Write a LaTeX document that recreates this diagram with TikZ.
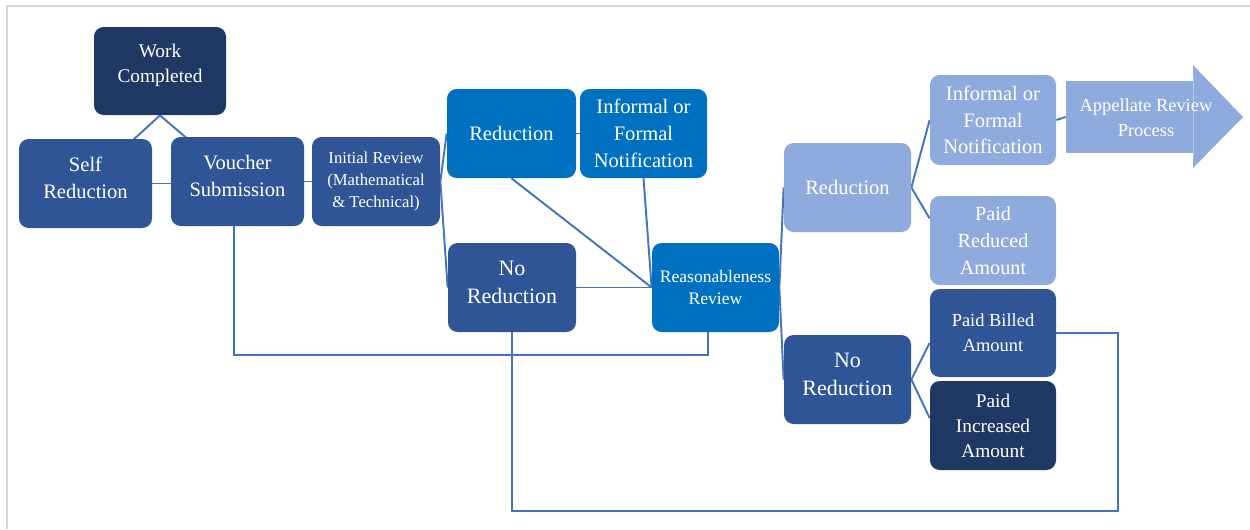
\documentclass[tikz,border=0pt]{standalone}
\usepackage{fontspec}
\setmainfont{Liberation Serif}
\usetikzlibrary{calc,backgrounds}

\definecolor{navy}{HTML}{203864}
\definecolor{midblue}{HTML}{2F5597}
\definecolor{brightblue}{HTML}{0070C0}
\definecolor{lightblue}{HTML}{8FAADC}
\definecolor{linkblue}{HTML}{4472C4}
\definecolor{framegrey}{HTML}{D6D6D6}

\newcommand\boxsize[2]{\fontsize{#1}{#2}\selectfont}

\tikzset{
  box/.style={rectangle, rounded corners=5.5pt, text=white, align=center, inner sep=0pt},
  wh/.style 2 args={minimum width=#1*0.02cm, minimum height=#2*0.02cm},
  conn/.style={draw=linkblue, line width=1.1pt},
  frameline/.style={draw=framegrey, line width=0.8pt},
}

\begin{document}
\begin{tikzpicture}[x=0.02cm, y=-0.02cm]
\useasboundingbox (0,0) rectangle (1250,529);
\draw[frameline] (7,529) -- (7,6) -- (1250,6);

% first stage
\node[box, fill=navy, wh={132}{88}, font=\boxsize{11}{14.2}, text depth=9pt] (wc) at (160,71) {Work\\Completed};
\node[box, fill=midblue, wh={133}{89}, font=\boxsize{11.7}{15.3}, text depth=6.8pt] (sr) at (85.5,183.5) {Self\\Reduction};
\node[box, fill=midblue, wh={133}{89}, font=\boxsize{11.7}{15.3}, text depth=6.8pt] (vs) at (237.5,181.5) {Voucher\\Submission};
\node[box, fill=midblue, wh={128}{89}, font=\boxsize{9.5}{12.5}] (ir) at (376,181.5) {Initial Review\\(Mathematical\\\& Technical)};

% initial review outcomes
\node[box, fill=brightblue, wh={129}{89}, font=\boxsize{11.7}{15.3}] (rm) at (511.5,133.5) {Reduction};
\node[box, fill=brightblue, wh={127}{89}, font=\boxsize{11.7}{15.3}] (im) at (643.5,133.5) {Informal or\\Formal\\Notification};
\node[box, fill=midblue, wh={128}{89}, font=\boxsize{12.5}{16}, text depth=5.7pt] (nm) at (512,287.5) {No\\Reduction};
\node[box, fill=brightblue, wh={127}{89}, font=\boxsize{10}{13}] (rr) at (715.5,287.5) {Reasonableness\\Review};

% reasonableness review outcomes
\node[box, fill=lightblue, wh={127}{89}, font=\boxsize{11.7}{15.3}] (rdr) at (847.5,187.5) {Reduction};
\node[box, fill=midblue, wh={127}{89}, font=\boxsize{12.5}{16}, text depth=5.7pt] (nr) at (847.5,379.5) {No\\Reduction};
\node[box, fill=lightblue, wh={126}{90}, font=\boxsize{11.7}{15}] (ir2) at (993,120) {Informal or\\Formal\\Notification};
\node[box, fill=lightblue, wh={126}{89}, font=\boxsize{11.5}{15.3}] (pr) at (993,240.5) {Paid\\Reduced\\Amount};
\node[box, fill=midblue, wh={126}{88}, font=\boxsize{10.5}{14.2}] (pb) at (993,333) {Paid Billed\\Amount};
\node[box, fill=navy, wh={126}{89}, font=\boxsize{11}{14.2}] (pi) at (993,425.5) {Paid\\Increased\\Amount};

% appellate review arrow
\node[rectangle, fill=lightblue, inner sep=0pt, wh={127}{72}] (ap) at (1129.5,117) {};
\fill[lightblue] (ap.north east) -- (1193,65) -- (1243,117) -- (1193,168) -- (ap.south east) -- cycle;
\node[text=white, align=center, inner sep=0pt, font=\boxsize{10.5}{14.2}] (aptext) at (1146,118) {Appellate Review\\Process};

\coordinate (loopcorner) at (1118,511);

\begin{pgfonlayer}{background}
  \draw[conn] (wc.south) -- (sr.center);
  \draw[conn] (wc.south) -- (vs.center);
  \draw[conn] (sr.east) -- (sr.east -| vs.west);
  \draw[conn] (vs.east) -- (ir.west);
  \draw[conn] (ir.east) -- (rm.west);
  \draw[conn] (ir.east) -- (nm.west);
  \draw[conn] (rm.east) -- (im.west);
  \draw[conn] (rm.south) -- (rr.west);
  \draw[conn] (im.south) -- (rr.west);
  \draw[conn] (nm.east) -- (rr.west);
  \draw[conn] (rr.east) -- (rdr.west);
  \draw[conn] (rr.east) -- (nr.west);
  \draw[conn] (rdr.east) -- (ir2.west);
  \draw[conn] (rdr.east) -- ($(pr.west)+(0,-22)$);
  \draw[conn] (nr.east) -- ($(pb.west)+(0,10)$);
  \draw[conn] (nr.east) -- ($(pi.west)+(0,-7.5)$);
  \draw[conn] (ir2.east) -- (ap.west);
  % return paths
  \draw[conn] ($(vs.south)+(-3.5,0)$) -- ++(0,129) -| ($(rr.south)+(-7.5,0)$);
  \draw[conn] (nm.south) |- (loopcorner) |- (pb.east);
\end{pgfonlayer}
\end{tikzpicture}
\end{document}
